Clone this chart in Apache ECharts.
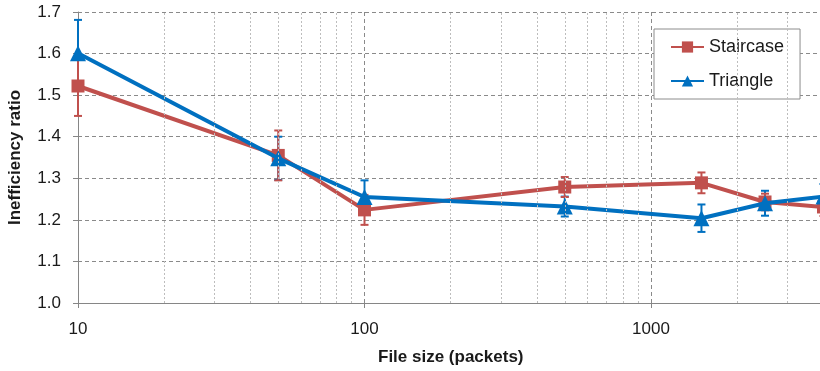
<!DOCTYPE html>
<html>
<head>
<meta charset="utf-8">
<script src="https://cdn.jsdelivr.net/npm/echarts@6/dist/echarts.min.js"></script>
<style>html,body{margin:0;padding:0;background:#fff;}#c{width:820px;height:371px;}</style>
</head>
<body>
<div id="c"></div>
<script>
const fileSizes = [10, 50, 100, 500, 1500, 2500, 4000];
const staircase = [1.522, 1.355, 1.224, 1.279, 1.289, 1.243, 1.231];
const staircaseErr = [0.072, 0.06, 0.036, 0.024, 0.025, 0.02, 0.022];
const triangle = [1.601, 1.348, 1.255, 1.232, 1.204, 1.240, 1.256];
const triangleErr = [0.08, 0.052, 0.04, 0.024, 0.033, 0.03, 0.03];
const xTickLabels = ['10', '100', '1000'];
const minorGridValues = [20,30,40,50,60,70,80,90,200,300,400,500,600,700,800,900,2000,3000,4000];

const RED = '#C0504D', BLUE = '#0070C0';
const FONT = 'Liberation Sans';

function errData(vals, errs) {
  return fileSizes.map((x, i) => [x, vals[i] - errs[i], vals[i] + errs[i]]);
}
function errRender(color) {
  return function (params, api) {
    const lo = api.coord([api.value(0), api.value(1)]);
    const hi = api.coord([api.value(0), api.value(2)]);
    const w = 4;
    const st = { stroke: color, lineWidth: 2 };
    return {
      type: 'group',
      children: [
        { type: 'line', shape: { x1: lo[0], y1: lo[1], x2: hi[0], y2: hi[1] }, style: st },
        { type: 'line', shape: { x1: lo[0] - w, y1: lo[1], x2: lo[0] + w, y2: lo[1] }, style: st },
        { type: 'line', shape: { x1: hi[0] - w, y1: hi[1], x2: hi[0] + w, y2: hi[1] }, style: st }
      ]
    };
  };
}

const chart = echarts.init(document.getElementById('c'), null, { renderer: 'canvas' });
chart.setOption({
  animation: false,
  textStyle: { fontFamily: FONT },
  grid: { left: 78, top: 12, width: 745.5, bottom: 68, containLabel: false, outerBoundsMode: 'none' },
  legend: {
    left: 654, top: 29, orient: 'vertical',
    itemWidth: 33, itemHeight: 14, itemGap: 16,
    padding: [9, 16, 9, 16],
    borderColor: '#8c8c8c', borderWidth: 1, backgroundColor: '#fff',
    textStyle: { fontFamily: FONT, fontSize: 18, color: '#1a1a1a' },
    data: ['Staircase', 'Triangle']
  },
  xAxis: {
    type: 'log', logBase: 10, min: 10, max: 4000,
    name: 'File size (packets)', nameLocation: 'middle', nameGap: 46,
    nameTextStyle: { fontFamily: FONT, fontSize: 17, fontWeight: 'bold', color: '#1a1a1a' },
    axisLine: { show: true, onZero: false, lineStyle: { color: '#868686', width: 1 } },
    axisTick: { show: true, length: 5, lineStyle: { color: '#868686' } },
    axisLabel: {
      fontFamily: FONT, fontSize: 17, color: '#1a1a1a', margin: 18,
      formatter: v => (xTickLabels.indexOf(String(Math.round(v))) >= 0 ? String(Math.round(v)) : '')
    },
    splitLine: { show: true, lineStyle: { color: '#8a8a8a', type: [4, 3], width: 1 } }
  },
  yAxis: {
    type: 'value', min: 1.0, max: 1.7, interval: 0.1,
    name: 'Inefficiency ratio', nameLocation: 'middle', nameGap: 54,
    nameTextStyle: { fontFamily: FONT, fontSize: 17, fontWeight: 'bold', color: '#1a1a1a' },
    axisLine: { show: true, lineStyle: { color: '#868686', width: 1 } },
    axisTick: { show: true, length: 5, lineStyle: { color: '#868686' } },
    axisLabel: { fontFamily: FONT, fontSize: 17, color: '#1a1a1a', margin: 17, formatter: v => v.toFixed(1) },
    splitLine: { show: true, lineStyle: { color: '#8a8a8a', type: [4, 3], width: 1 } }
  },
  series: [
    {
      name: 'minorGrid', type: 'line', data: [], silent: true, z: 0,
      markLine: {
        silent: true, symbol: ['none', 'none'], label: { show: false }, animation: false,
        lineStyle: { color: '#bdbdbd', type: [2, 2], width: 1 },
        data: minorGridValues.map(v => ({ xAxis: v }))
      }
    },
    {
      name: 'TriangleErr', type: 'custom', z: 2,
      renderItem: errRender(BLUE), data: errData(triangle, triangleErr),
      encode: { x: 0, y: [1, 2] }, silent: true
    },
    {
      name: 'StaircaseErr', type: 'custom', z: 2,
      renderItem: errRender(RED), data: errData(staircase, staircaseErr),
      encode: { x: 0, y: [1, 2] }, silent: true
    },
    {
      name: 'Staircase', type: 'line', z: 3,
      data: fileSizes.map((x, i) => [x, staircase[i]]),
      symbol: 'rect', symbolSize: 13, showAllSymbol: true,
      itemStyle: { color: RED }, lineStyle: { color: RED, width: 4 }
    },
    {
      name: 'Triangle', type: 'line', z: 4,
      data: fileSizes.map((x, i) => [x, triangle[i]]),
      symbol: 'triangle', symbolSize: 16, showAllSymbol: true,
      itemStyle: { color: BLUE }, lineStyle: { color: BLUE, width: 4 }
    }
  ]
});
</script>
</body>
</html>
